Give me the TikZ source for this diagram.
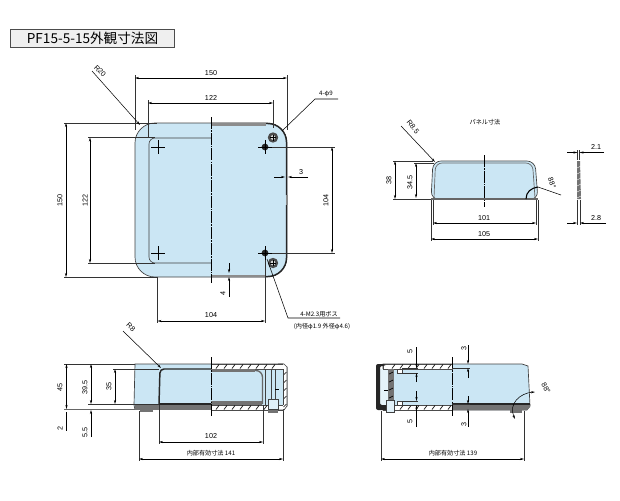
\documentclass[tikz,border=0pt]{standalone}
\usepackage{fontspec}
\setmainfont{Liberation Sans}
\newfontfamily\cjk{Noto Sans CJK JP}
\usetikzlibrary{arrows.meta,patterns}
\definecolor{boxblue}{HTML}{CBE6F4}
\definecolor{bandgray}{HTML}{6E7A80}
\definecolor{titlegray}{HTML}{EFEFEF}
\tikzset{
  dimline/.style={line width=0.35pt,{Stealth[length=3pt,width=1.6pt]}-{Stealth[length=3pt,width=1.6pt]}},
  tipline/.style={line width=0.35pt,-{Stealth[length=3pt,width=1.6pt]}},
  extline/.style={line width=0.3pt,black!80},
  outline/.style={line width=0.5pt,black!75},
  heavy/.style={line width=1.1pt,black!85},
  centerline/.style={line width=0.4pt,black,dash pattern=on 9pt off 0.8pt on 1.2pt off 0.8pt},
  hatchwall/.style={draw=black!70,line width=0.3pt,fill=white},
  lab/.style={font=\fontsize{5.4}{6}\selectfont,inner sep=0pt},
  labv/.style={lab,rotate=90},
  jplab/.style={font=\cjk\fontsize{4.6}{5.5}\selectfont,inner sep=0pt},
}
\begin{document}
\begin{tikzpicture}[x=0.75pt,y=-0.75pt]
    \useasboundingbox (0,0) rectangle (620,500);

    % Title
    \node[draw=black!70,fill=titlegray,line width=0.7pt,minimum width=123pt,minimum height=13.5pt,inner sep=0pt,font=\cjk\fontsize{10.2}{12}\selectfont] (title) at (92.5,38.5) {PF15-5-15外観寸法図};

    % Top view
    \draw[outline,fill=boxblue,rounded corners=15pt] (135,123) rectangle (287,277);
    \draw[heavy,rounded corners=14pt] (211,123.5) -- (286.5,123.5) -- (286.5,195);
    \draw[heavy,rounded corners=14pt] (286.5,205) -- (286.5,276.5) -- (211,276.5);
    \fill[black!45] (211,123) rectangle (266,125.5);
    \fill[black!45] (211,274.5) rectangle (266,277);
    \fill[black!45] (285.5,195) rectangle (287.5,205);
    \draw[outline,rounded corners=4.5pt] (211,138) -- (149,138) -- (149,263) -- (211,263);
    \draw[centerline] (211,117) -- (211,283);
    \foreach \cx/\cy in {158/147,158/253} {
        \draw[line width=0.4pt] (\cx-7,\cy) -- (\cx+7,\cy) (\cx,\cy-7) -- (\cx,\cy+7);
    }
    \foreach \cx/\cy in {265/147,265/253} {
        \fill[black!85] (\cx,\cy) circle (3.4);
        \draw[line width=0.4pt] (\cx-7,\cy) -- (\cx+7,\cy) (\cx,\cy-7) -- (\cx,\cy+7);
    }
    \foreach \cx/\cy in {273/137.5,273/263} {
        \fill[black!70] (\cx,\cy) circle (5.2);
        \fill[black!15] (\cx,\cy) circle (2.4);
        \draw[line width=0.4pt] (\cx-3,\cy) -- (\cx+3,\cy) (\cx,\cy-3) -- (\cx,\cy+3);
    }
    % Top view dimensions
    \draw[extline] (135,75) -- (135,130) (287,75) -- (287,130);
    \draw[dimline] (135,78) -- (287,78);
    \node[lab] (top150) at (211,73) {150};
    \draw[extline] (148,100) -- (148,138) (273,100) -- (273,128);
    \draw[dimline] (148,103) -- (273,103);
    \node[lab] (top122) at (211,98) {122};
    \draw[extline] (64,123) -- (157,123) (64,277) -- (157,277);
    \draw[dimline] (66,123) -- (66,277);
    \node[labv] (left150) at (60,200) {150};
    \draw[extline] (88,137.5) -- (155,137.5) (88,263) -- (155,263);
    \draw[dimline] (90,137.5) -- (90,263);
    \node[labv] (left122) at (85,200) {122};
    \draw[extline] (272,147) -- (335,147) (272,253) -- (335,253);
    \draw[dimline] (332,147) -- (332,253);
    \node[labv] (right104) at (326,200) {104};
    \draw[extline] (157.5,277) -- (157.5,323) (265,260) -- (265,323);
    \draw[dimline] (157.5,321) -- (265,321);
    \node[lab] (bot104) at (211,315) {104};
    \draw[tipline] (274,177) -- (285,177);
    \draw[tipline] (308,177) -- (288,177);
    \node[lab] (wall3) at (301,172) {3};
    \draw[tipline] (229,263) -- (229,273);
    \draw[tipline] (229,297) -- (229,277);
    \node[labv] (wall4) at (223,293) {4};
    % Leaders
    \draw[line width=0.4pt,-{Stealth[length=3pt,width=1.6pt]}] (92,71) -- (140,125);
    \node[lab,rotate=-45] (r20) at (100,71) {R20};
    \draw[line width=0.4pt] (338,99) -- (315,99) -- (282,131);
    \node[jplab] (holes) at (326,94) {4-φ9};
    \draw[line width=0.4pt] (340,318) -- (288,318) -- (267,259);
    \node[jplab] (boss) at (319,314) {4-M2.3用ボス};
    \node[jplab] (bossdia) at (322,327) {(内径φ1.9 外径φ4.6)};

    % Panel
    \node[jplab] (paneltitle) at (485,122) {パネル寸法};
    \draw[outline,fill=boxblue,rounded corners=6pt] (431,199.5) -- (433,161) -- (535,161) -- (538,199.5) -- cycle;
    \draw[line width=0.5pt,black!60,rounded corners=5pt] (434,198) -- (435.5,163) -- (532.5,163) -- (535,198);
    \fill[black!60] (431,197.5) rectangle (538,200);
    \draw[centerline] (484,155) -- (484,207);
    \draw[line width=0.8pt] (526,199) .. controls (526,192) and (531,188) .. (538,187);
    % Panel dimensions
    \draw[extline] (393,161) -- (433,161) (393,199) -- (431,199);
    \draw[dimline] (395,161) -- (395,199);
    \node[labv] (pan38) at (389,180) {38};
    \draw[extline] (414,163) -- (434,163);
    \draw[dimline] (416,163) -- (416,198);
    \node[labv] (pan345) at (410,182) {34.5};
    \draw[extline] (433,200) -- (433,225) (536,200) -- (536,225);
    \draw[dimline] (433,223) -- (536,223);
    \node[lab] (pan101) at (484,218) {101};
    \draw[extline] (431,200) -- (431,241) (538,200) -- (538,241);
    \draw[dimline] (431,239) -- (538,239);
    \node[lab] (pan105) at (484,234) {105};
    \draw[line width=0.4pt,-{Stealth[length=3pt,width=1.6pt]}] (401,126) -- (435,162);
    \node[lab,rotate=-52] (r85) at (413,127) {R8.5};
    \draw[line width=0.4pt] (538,187) -- (561,195);
    \node[lab,rotate=-70] (pan88) at (552,183) {88°};
    % Panel edge
    \fill[black!55] (577,161) -- (580,161) -- (581,199) -- (577,199) -- cycle;
    \foreach \ty in {166,172,...,196} {
        \draw[white,line width=0.3pt] (577,\ty+2) -- (581,\ty);
    }
    \draw[extline] (577.5,150) -- (577.5,160) (579.5,150) -- (579.5,160);
    \draw[extline] (577,200) -- (577,225) (580,200) -- (580,225);
    \draw[tipline] (567,152.5) -- (577.5,152.5);
    \draw[tipline] (604,152.5) -- (579.5,152.5);
    \node[lab] (edge21) at (596,147) {2.1};
    \draw[tipline] (567,223) -- (577,223);
    \draw[tipline] (606,223) -- (580,223);
    \node[lab] (edge28) at (596,218) {2.8};

    % Front view
    \draw[outline,fill=boxblue] (135,364) -- (283,364) -- (287,367) -- (287,406) -- (284,409.5) -- (135,409.5) -- (134,405) -- cycle;
    \draw[heavy,rounded corners=3pt] (159,404) -- (160,369) -- (211,369);
    \draw[heavy] (159,404) -- (211,404);
    \fill[black!55] (135,405) rectangle (211,409.5);
    \fill[black!55] (140,409.5) rectangle (153,412);
    % Front view section
    \draw[hatchwall] (211,364) rectangle (283,369);
    \draw[hatchwall] (211,405) rectangle (283,410);
    \foreach \hx in {216,224,...,276} {
        \draw[line width=0.5pt] (\hx,368.5) -- (\hx+3,364.5);
        \draw[line width=0.5pt] (\hx,409.5) -- (\hx+3,405.5);
    }
    \fill[white] (283,364) rectangle (287,409);
    \draw[outline] (278,364) -- (284,364) -- (287,367) -- (287,406) -- (284,410) -- (278,410);
    \foreach \hy in {372,380,...,404} {
        \draw[line width=0.5pt] (283.5,\hy+3) -- (286.5,\hy);
    }
    \fill[black!55] (211,369) rectangle (255,372);
    \fill[black!55] (211,401) rectangle (262,404.5);
    \draw[line width=1pt,black!60,rounded corners=5pt] (255,370.5) -- (262.5,370.5) -- (262.5,404);
    \draw[outline] (265,369) -- (265,405) (271,369) -- (271,400) (275,369) -- (275,400) (283,369) -- (283,405);
    \draw[line width=0.3pt] (275,389) -- (279,389);
    \draw[outline,fill=boxblue!60] (268,399) rectangle (278,409);
    \fill[black!55] (268,410) rectangle (278,413);
    \draw[centerline] (211,357) -- (211,417);
    % Front view dimensions
    \draw[extline] (64,364) -- (135,364);
    \draw[dimline] (66.5,364) -- (66.5,409);
    \node[labv] (fr45) at (60,387) {45};
    \draw[extline] (88,404) -- (135,404);
    \draw[dimline] (91,364) -- (91,404);
    \node[labv] (fr395) at (85,387) {39.5};
    \draw[extline] (113,369) -- (159,369) (113,404) -- (159,404);
    \draw[dimline] (115,369) -- (115,404);
    \node[labv] (fr35) at (109,386) {35};
    \draw[line width=0.8pt,black!60] (64,409.5) -- (135,409.5);
    \draw[line width=0.4pt] (66.5,412) -- (66.5,431);
    \node[labv] (fr2) at (60,428) {2};
    \draw[tipline] (91,437) -- (91,410);
    \node[labv] (fr55) at (85,432) {5.5};
    \draw[extline] (159,405) -- (159,444) (263,405) -- (263,444);
    \draw[dimline] (159,442) -- (263,442);
    \node[lab] (fr102) at (211,436) {102};
    \draw[extline] (139,411) -- (139,461) (283,411) -- (283,461);
    \draw[dimline] (139,459) -- (283,459);
    \node[jplab] (fr141) at (211,453) {内部有効寸法 141};
    \draw[line width=0.4pt,-{Stealth[length=3pt,width=1.6pt]}] (123,331) -- (161,368);
    \node[lab,rotate=-45] (r8) at (131,327) {R8};

    % Side view
    \draw[outline,fill=boxblue] (383,364) -- (522,364) -- (528,366) -- (530,406) -- (527,410) -- (383,410) -- cycle;
    \fill[black!55] (452,404) -- (530,404) -- (530,407) -- (527,410) -- (452,410) -- cycle;
    \draw[heavy] (452,404) -- (530,404);
    \fill[black!55] (510,410) rectangle (522,412.5);
    \fill[boxblue!50] (380,369) rectangle (388,405);
    \draw[hatchwall] (383,364) rectangle (452,369);
    \draw[hatchwall] (383,405) rectangle (452,410);
    \foreach \hx in {392,400,...,448} {
        \draw[line width=0.5pt] (\hx,368.5) -- (\hx+3,364.5);
        \draw[line width=0.5pt] (\hx,409.5) -- (\hx+3,405.5);
    }
    \fill[black!85,rounded corners=1.5pt] (376,364) -- (385,364) -- (385,366) -- (380,366) -- (380,405) -- (388,405) -- (388,410) -- (376,410) -- cycle;
    \fill[black!55] (388,369) rectangle (394,400);
    \foreach \hy in {372,380,...,396} {
        \draw[black,line width=0.5pt] (389,\hy+2) -- (393,\hy);
    }
    \draw[line width=0.3pt] (384,390) -- (388,390);
    \draw[outline,fill=boxblue!60] (386,400) rectangle (394,412);
    \draw[outline,fill=white] (397,369) rectangle (402,373);
    \draw[outline,fill=white] (397,401) rectangle (402,405);
    \draw[centerline] (452.5,357) -- (452.5,417);
    % Side view dimensions
    \draw[extline] (402,368) -- (418,368) (402,373) -- (418,373);
    \draw[tipline] (416.5,347) -- (416.5,368);
    \draw[tipline] (416.5,382) -- (416.5,373);
    \node[labv] (sd5up) at (410,351) {5};
    \draw[extline] (402,401) -- (418,401) (402,405) -- (418,405);
    \draw[tipline] (416.5,391) -- (416.5,401);
    \draw[tipline] (416.5,427) -- (416.5,405);
    \node[labv] (sd5dn) at (410,421) {5};
    \draw[extline] (452,368) -- (470,368);
    \draw[tipline] (468,345) -- (468,364);
    \draw[tipline] (468,378) -- (468,368);
    \node[labv] (sd3up) at (464,348) {3};
    \draw[extline] (452,404) -- (470,404);
    \draw[tipline] (468,396) -- (468,404);
    \draw[tipline] (468,427) -- (468,409);
    \node[labv] (sd3dn) at (464,424) {3};
    \draw[extline] (381,411) -- (381,461) (524,411) -- (524,461);
    \draw[dimline] (381,459) -- (524,459);
    \node[jplab] (sd139) at (453,453) {内部有効寸法 139};
    \draw[line width=0.4pt,{Stealth[length=3pt,width=1.6pt]}-{Stealth[length=3pt,width=1.6pt]}] (515,419) .. controls (508,404) and (520,393) .. (535,392);
    \node[lab,rotate=-60] (sd88) at (546,388) {88°};
\end{tikzpicture}
\end{document}
